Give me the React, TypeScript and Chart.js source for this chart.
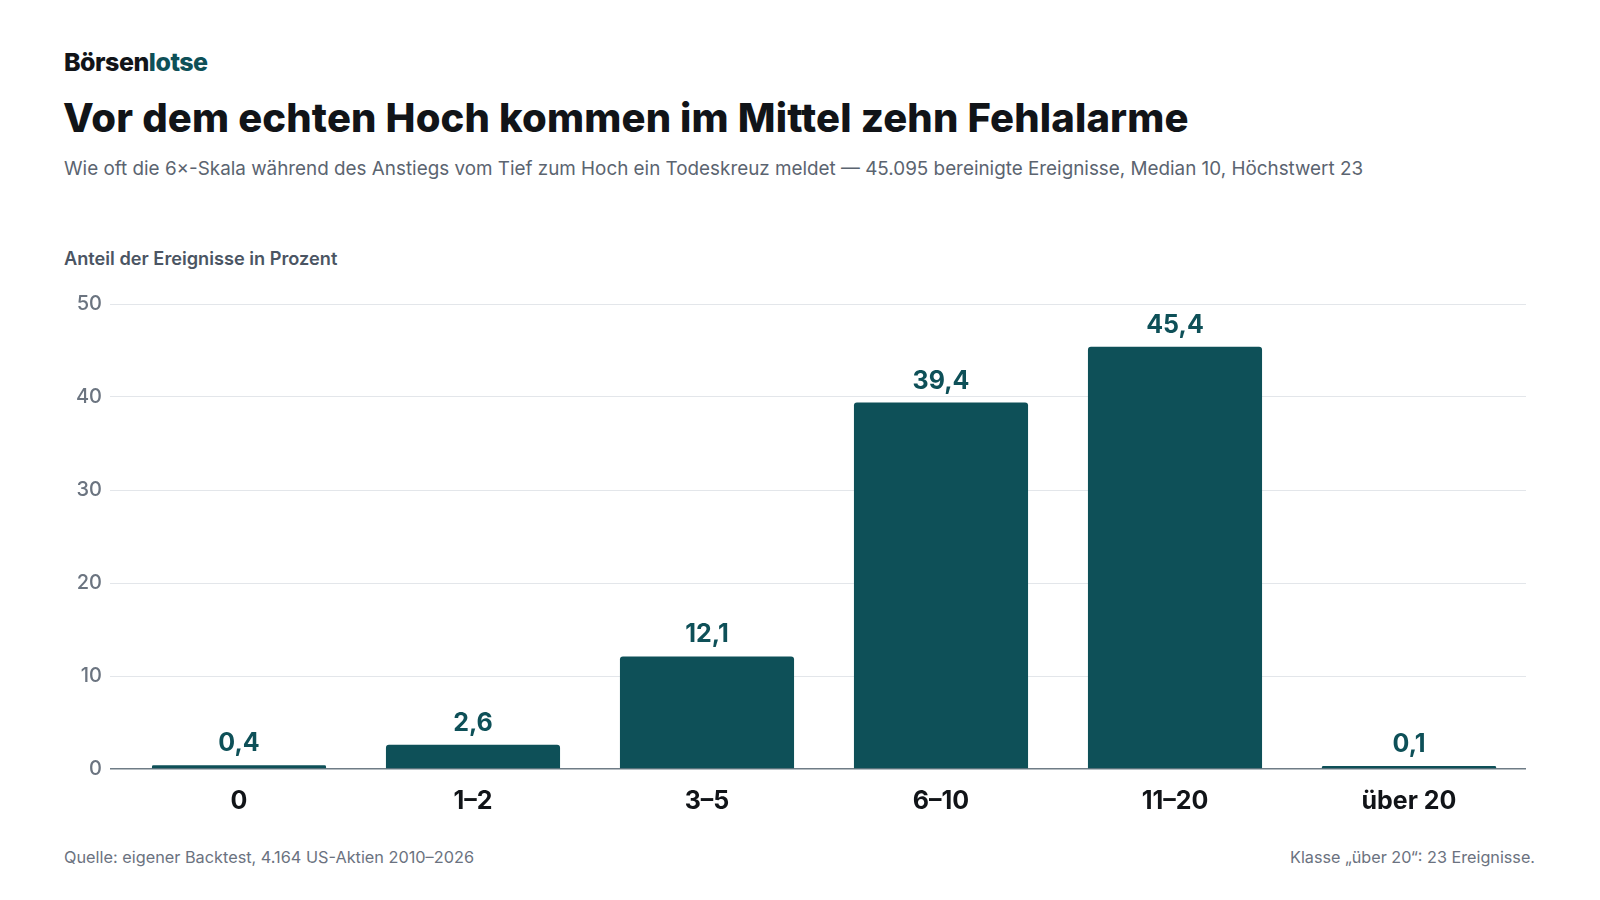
import React, { useEffect, useRef } from "react";
import { Chart, registerables } from "chart.js";

Chart.register(...registerables);

const categories = ["0", "1–2", "3–5", "6–10", "11–20", "über 20"];
const shares = [0.4, 2.6, 12.1, 39.4, 45.4, 0.1];
const yTicks = [0, 10, 20, 30, 40, 50];

const TEAL = "#0e5058";
const FONT = "Inter, 'Noto Sans', sans-serif";
const GRID = "#e3e6ea";
const AXIS = "#6f7c86";

const valueLabels = {
  id: "valueLabels",
  afterDatasetsDraw(chart: any) {
    const ctx = chart.ctx;
    const meta = chart.getDatasetMeta(0);
    ctx.save();
    ctx.font = `700 25px ${FONT}`;
    ctx.fillStyle = TEAL;
    ctx.textAlign = "center";
    ctx.textBaseline = "alphabetic";
    meta.data.forEach((bar: any, i: number) => {
      const v = shares[i];
      ctx.fillText(v.toFixed(1).replace(".", ","), bar.x, bar.y - 14);
    });
    ctx.restore();
  },
};

export default function App() {
  const ref = useRef<HTMLCanvasElement>(null);
  useEffect(() => {
    if (!ref.current) return;
    const chart = new Chart(ref.current, {
      type: "bar",
      data: {
        labels: categories,
        datasets: [
          {
            data: shares,
            backgroundColor: TEAL,
            borderRadius: { topLeft: 3, topRight: 3, bottomLeft: 0, bottomRight: 0 },
            borderSkipped: "bottom",
            barPercentage: 0.744,
            categoryPercentage: 1,
            minBarLength: 3,
          },
        ],
      },
      options: {
        animation: false,
        responsive: false,
        maintainAspectRatio: false,
        layout: { padding: { top: 24, right: 24, left: 0, bottom: 0 } },
        plugins: { legend: { display: false }, tooltip: { enabled: false } },
        scales: {
          x: {
            grid: { display: false, drawTicks: false },
            border: { display: false },
            ticks: {
              color: "#111418",
              font: { family: FONT, size: 25, weight: "700" as any },
              padding: 17,
            },
            afterFit(scale: any) {
              scale.height = 68;
            },
          },
          y: {
            min: 0,
            max: 50,
            afterBuildTicks(scale: any) {
              scale.ticks = yTicks.map((v) => ({ value: v }));
            },
            grid: {
              color: (c: any) => (c.tick && c.tick.value === 0 ? AXIS : GRID),
              lineWidth: (c: any) => (c.tick && c.tick.value === 0 ? 1.5 : 1),
              drawTicks: true,
              tickLength: 12,
            },
            border: { display: false },
            ticks: {
              color: "#6b7480",
              font: { family: FONT, size: 20, weight: "500" as any },
              padding: 8,
            },
            afterFit(scale: any) {
              scale.width = 72;
            },
          },
        },
      },
      plugins: [valueLabels],
    });
    return () => chart.destroy();
  }, []);

  const abs = (left: number, top: number): React.CSSProperties => ({
    position: "absolute",
    left,
    top,
    margin: 0,
    whiteSpace: "nowrap",
    fontFamily: FONT,
  });

  return (
    <div style={{ position: "absolute", left: 0, top: 0, width: 1600, height: 900, background: "#fff", overflow: "hidden" }}>
      <div style={{ ...abs(64, 47), fontSize: 25, fontWeight: 800, color: "#111418", letterSpacing: "-0.02em" }}>
        Börsen<span style={{ color: TEAL }}>lotse</span>
      </div>
      <div style={{ ...abs(63, 93), fontSize: 40, fontWeight: 800, color: "#111418", letterSpacing: "0.004em" }}>
        Vor dem echten Hoch kommen im Mittel zehn Fehlalarme
      </div>
      <div style={{ ...abs(64, 157), fontSize: 18.85, fontWeight: 400, color: "#5b6470" }}>
        Wie oft die 6×-Skala während des Anstiegs vom Tief zum Hoch ein Todeskreuz meldet — 45.095 bereinigte Ereignisse, Median 10, Höchstwert 23
      </div>
      <div style={{ ...abs(64, 247), fontSize: 18.2, fontWeight: 600, color: "#4b5563" }}>
        Anteil der Ereignisse in Prozent
      </div>
      <canvas ref={ref} width={1500} height={557} style={{ position: "absolute", left: 50, top: 280, width: 1500, height: 557 }} />
      <div style={{ ...abs(64, 847), fontSize: 16.3, color: "#6b7280" }}>
        Quelle: eigener Backtest, 4.164 US-Aktien 2010–2026
      </div>
      <div style={{ ...abs(0, 847), left: "auto", right: 65, fontSize: 16.2, color: "#6b7280" }}>
        Klasse „über 20“: 23 Ereignisse.
      </div>
    </div>
  );
}
